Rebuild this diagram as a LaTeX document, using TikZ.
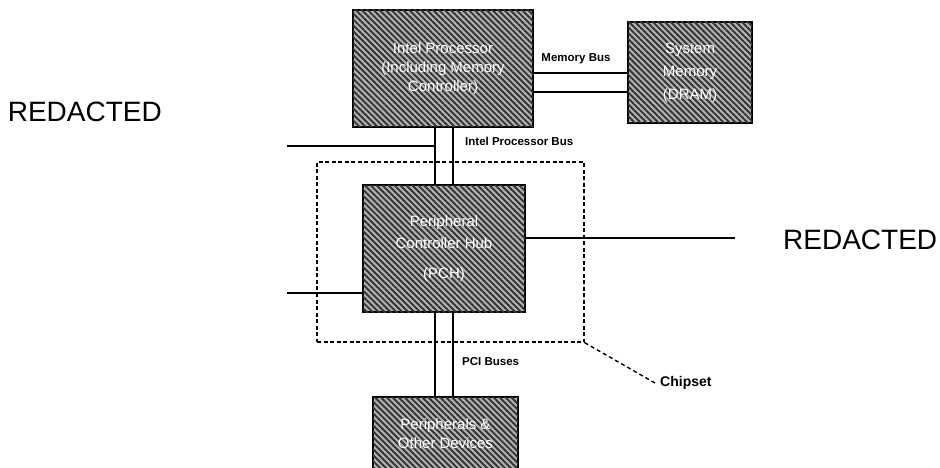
\documentclass[tikz,border=0pt]{standalone}
\usepackage{fontspec}
\setmainfont{Liberation Sans}
\usetikzlibrary{patterns.meta}
\begin{document}
\begin{tikzpicture}[x=1pt,y=-1pt,
  hatchbox/.style={draw=black, line width=1.6pt, fill=black!30,
    postaction={pattern={Lines[angle=-45,distance=4.2pt,line width=1.9pt]}, pattern color=black!80},
    inner sep=0pt, align=center, text=white,
    font=\fontsize{15}{19}\selectfont},
  bus/.style={line width=1.4pt},
  lbl/.style={font=\bfseries\fontsize{11.5}{13}\selectfont, inner sep=0pt},
  big/.style={font=\fontsize{28}{32}\selectfont, inner sep=0pt}]
\useasboundingbox (0,0) rectangle (940,468);
% chipset dashed region
\node[draw, dashed, dash pattern=on 4pt off 2.5pt, line width=1.4pt,
      minimum width=267pt, minimum height=180pt, inner sep=0pt] (chip) at (450.5,252) {};
% boxes
\node[hatchbox, minimum width=180pt, minimum height=117pt] (proc) at (443,68.5)
  {Intel Processor\\(Including Memory\\Controller)};
\node[hatchbox, minimum width=124pt, minimum height=101pt, font=\fontsize{15}{23}\selectfont] (mem) at (690,72.5)
  {System\\Memory\\(DRAM)};
\node[hatchbox, minimum width=162pt, minimum height=127pt, font=\fontsize{15}{22}\selectfont] (pch) at (444,248.5)
  {Peripheral\\Controller Hub\\[8pt](PCH)};
\node[hatchbox, minimum width=145pt, minimum height=74pt] (per) at (445.5,434)
  {Peripherals \&\\Other Devices};
% coordinates
\coordinate (b1) at (435,0);
\coordinate (b2) at (453,0);
\coordinate (m1) at (0,73);
\coordinate (m2) at (0,92);
\coordinate (l1) at (287,146);
\coordinate (l2) at (287,293);
\coordinate (r1) at (735,238);
% buses
\draw[bus] (b1 |- proc.south) -- (b1 |- pch.north);
\draw[bus] (b2 |- proc.south) -- (b2 |- pch.north);
\draw[bus] (b1 |- pch.south) -- (b1 |- per.north);
\draw[bus] (b2 |- pch.south) -- (b2 |- per.north);
\draw[bus] (proc.east |- m1) -- (mem.west |- m1);
\draw[bus] (proc.east |- m2) -- (mem.west |- m2);
\draw[bus] (l1) -- (l1 -| b1);
\draw[bus] (l2) -- (l2 -| pch.west);
\draw[bus] (pch.east |- r1) -- (r1);
% labels
\node[lbl] (mb) at (576,59) {Memory Bus};
\node[lbl, anchor=west] (ipb) at (465,141) {Intel Processor Bus};
\node[lbl, anchor=west] (pci) at (462,362) {PCI Buses};
\node[font=\bfseries\fontsize{14}{16}\selectfont, inner sep=0pt, anchor=west] (cs) at (660,383) {Chipset};
\draw[dashed, dash pattern=on 4pt off 3pt, line width=1.4pt] (chip.south east) -- ([xshift=-5pt]cs.west);
\node[big, anchor=east] (rl) at (162,112) {REDACTED};
\node[big, anchor=west] (rr) at (783,240) {REDACTED};
\end{tikzpicture}
\end{document}
